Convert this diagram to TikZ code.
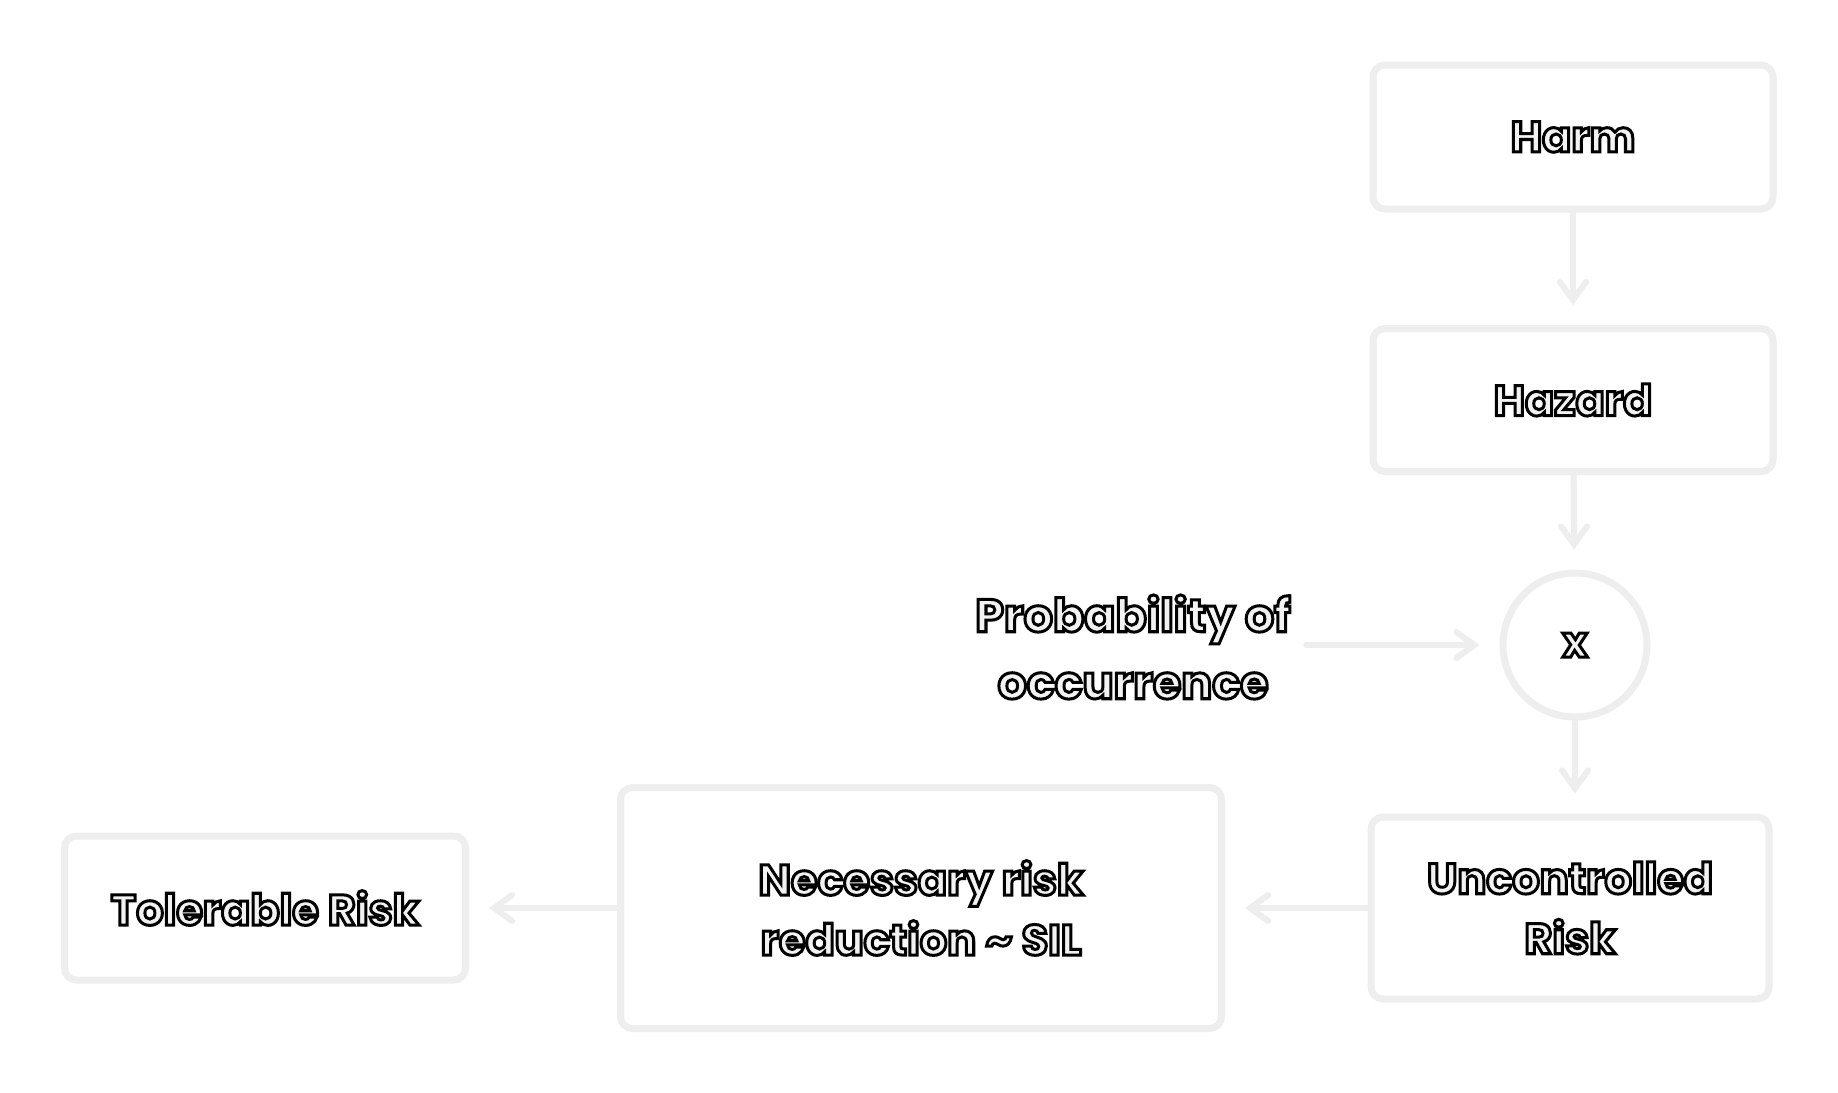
\documentclass[tikz,border=0pt]{standalone}
\usepackage{fontspec}
\setmainfont{Poppins}
\usetikzlibrary{arrows.meta}
\definecolor{linegray}{RGB}{238,238,238}
\newcommand\outl[1]{\special{pdf:bcolor [0.95] [0]}\special{pdf:literal direct 2 Tr 3 w}#1\special{pdf:literal direct 0 Tr}\special{pdf:ecolor}}
\tikzset{
  box/.style={draw=linegray, line width=7pt, rounded corners=12pt, fill=white, align=center,
              font=\fontsize{43}{60}\selectfont\bfseries},
  circ/.style={draw=linegray, line width=7pt, circle, fill=white, minimum size=144pt, inner sep=0pt,
              font=\fontsize{43}{60}\selectfont\bfseries},
  lbl/.style={align=center, font=\fontsize{46}{67}\selectfont\bfseries},
  arr/.style={draw=linegray, line width=6pt, line cap=round,
              -{Straight Barb[length=18pt, width=26pt, line cap=round]}, shorten >=20pt}
}
\begin{document}
\begin{tikzpicture}[x=1pt, y=-1pt]
  \useasboundingbox (0,0) rectangle (1838,1092);
  \fill[white] (0,0) rectangle (1838,1092);

  \node[box, minimum width=400pt, minimum height=144pt] (harm) at (1573,137) {\outl{Harm}};
  \node[box, minimum width=400pt, minimum height=143pt] (hazard) at (1573,400) {\outl{Hazard}};
  \node[circ] (mult) at (1575,645) {\outl{x}};
  \node[lbl] (prob) at (1133,647) {\outl{Probability of}\\\outl{occurrence}};
  \node[box, minimum width=398pt, minimum height=182pt] (unc) at (1570,908) {\outl{Uncontrolled}\\\outl{Risk}};
  \node[box, minimum width=601pt, minimum height=241pt] (nec) at (921,908) {\outl{Necessary risk}\\\outl{reduction \textasciitilde{} SIL}};
  \node[box, minimum width=401pt, minimum height=144pt] (tol) at (265,908) {\outl{Tolerable Risk}};

  \draw[arr] (harm) -- (hazard);
  \draw[arr] (hazard) -- (mult);
  \draw[arr] (mult) -- (unc.north -| mult.south);
  \draw[arr, shorten <=12pt] (prob.east |- mult.west) -- (mult);
  \draw[arr] (unc) -- (nec);
  \draw[arr] (nec) -- (tol);
\end{tikzpicture}
\end{document}
